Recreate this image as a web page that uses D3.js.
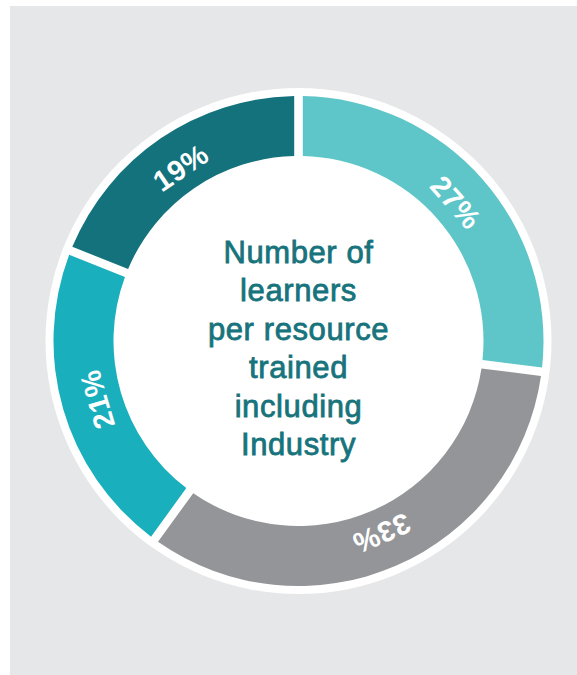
<!DOCTYPE html>
<html>
<head>
<meta charset="utf-8">
<script src="https://cdn.jsdelivr.net/npm/d3@7"></script>
<style>
  html, body { margin: 0; padding: 0; background: #ffffff; }
  svg { display: block; }
</style>
</head>
<body>
<svg id="chart" width="577" height="675"></svg>
<script>
const values = [27, 33, 21, 19];
const labels = ["27%", "33%", "21%", "19%"];
const colors = ["#5ec6c8", "#939598", "#19afbc", "#13727c"];
const centerLines = ["Number of", "learners", "per resource", "trained", "including", "Industry"];

const W = 577, H = 675;
const cx = 298.5, cy = 341;
const outerR = 245, innerR = 185, ringR = 253, labelR = 210;

const svg = d3.select("#chart");

svg.append("rect")
  .attr("x", 10).attr("y", 6)
  .attr("width", W - 10).attr("height", H - 6)
  .attr("fill", "#e6e7e8");

const g = svg.append("g").attr("transform", `translate(${cx},${cy})`);

g.append("circle").attr("r", ringR).attr("fill", "#ffffff");

const pie = d3.pie().sort(null).value(d => d);
const arcs = pie(values);

const arc = d3.arc()
  .innerRadius(innerR)
  .outerRadius(outerR)
  .padRadius(100)
  .padAngle(0.086);

g.selectAll("path.seg")
  .data(arcs)
  .join("path")
  .attr("class", "seg")
  .attr("d", arc)
  .attr("fill", (d, i) => colors[i]);

g.selectAll("text.pct")
  .data(arcs)
  .join("text")
  .attr("class", "pct")
  .attr("transform", d => {
    const a = (d.startAngle + d.endAngle) / 2;
    const x = labelR * Math.sin(a), y = -labelR * Math.cos(a);
    return `translate(${x},${y}) rotate(${a * 180 / Math.PI})`;
  })
  .attr("text-anchor", "middle")
  .attr("dy", "0.36em")
  .attr("fill", "#ffffff")
  .attr("font-family", "'Liberation Sans', Arial, sans-serif")
  .attr("font-weight", "bold")
  .attr("font-size", 29)
  .attr("letter-spacing", 0.5)
  .text((d, i) => labels[i]);

const firstBaseline = 262.5 - cy, lineGap = 38.5;
g.selectAll("text.center")
  .data(centerLines)
  .join("text")
  .attr("class", "center")
  .attr("x", 0)
  .attr("y", (d, i) => firstBaseline + i * lineGap)
  .attr("text-anchor", "middle")
  .attr("fill", "#17737c")
  .attr("stroke", "#17737c")
  .attr("stroke-width", 0.8)
  .attr("font-family", "'Liberation Sans', Arial, sans-serif")
  .attr("font-size", 31)
  .attr("letter-spacing", 0.6)
  .text(d => d);
</script>
</body>
</html>
